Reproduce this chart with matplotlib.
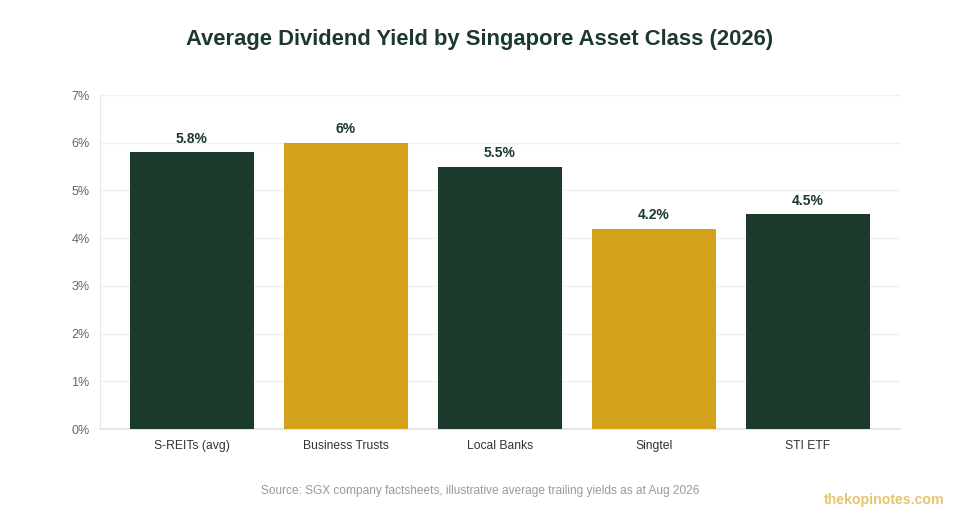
import numpy as np
import matplotlib.pyplot as plt

categories = ["S-REITs (avg)", "Business Trusts", "Local Banks", "Singtel", "STI ETF"]
yields = [5.8, 6.0, 5.5, 4.2, 4.5]
labels = ["5.8%", "6%", "5.5%", "4.2%", "4.5%"]
green = "#1c3a2b"
gold = "#d4a11c"
colors = [green, gold, green, gold, green]

plt.rcParams["font.family"] = ["Liberation Sans", "DejaVu Sans"]

fig = plt.figure(figsize=(9.6, 5.2), dpi=100)
ax = fig.add_axes([100 / 960, 1 - 429 / 520, 800 / 960, 334 / 520])

x = np.arange(len(categories))
ax.bar(x, yields, width=0.805, color=colors, zorder=3)
for xi, v, lab in zip(x, yields, labels):
    ax.annotate(lab, (xi, v), xytext=(0, 4.5), textcoords="offset points",
                ha="center", va="bottom", fontsize=10, fontweight="bold",
                color=green, zorder=4)

ax.set_xlim(-92 / 154, 708 / 154)
ax.set_ylim(0, 7)
ax.set_yticks(range(8))
ax.set_yticklabels([f"{i}%" for i in range(8)])
ax.set_xticks(x)
ax.set_xticklabels(categories)
ax.tick_params(axis="y", length=0, pad=7.5, labelsize=9, labelcolor="#666666")
ax.tick_params(axis="x", length=0, pad=8, labelsize=8.7, labelcolor="#333333")
ax.grid(axis="y", color="#f0f0f0", linewidth=1, zorder=0)
for side in ["top", "right"]:
    ax.spines[side].set_visible(False)
ax.spines["left"].set_color("#e6e6e6")
ax.spines["bottom"].set_color("#e6e6e6")
ax.spines["bottom"].set_linewidth(1.5)

fig.text(0.5, 1 - 40 / 520, "Average Dividend Yield by Singapore Asset Class (2026)",
         ha="center", va="center", fontsize=15.8, fontweight="bold", color=green)
fig.text(0.5, 1 - 491 / 520,
         "Source: SGX company factsheets, illustrative average trailing yields as at Aug 2026",
         ha="center", va="center", fontsize=8.6, color="#999999")
fig.text(944 / 960, 1 - 500 / 520, "thekopinotes.com", ha="right", va="center",
         fontsize=10.2, fontweight="bold", color="#e8c46a")

fig.savefig("out.png", dpi=100)
